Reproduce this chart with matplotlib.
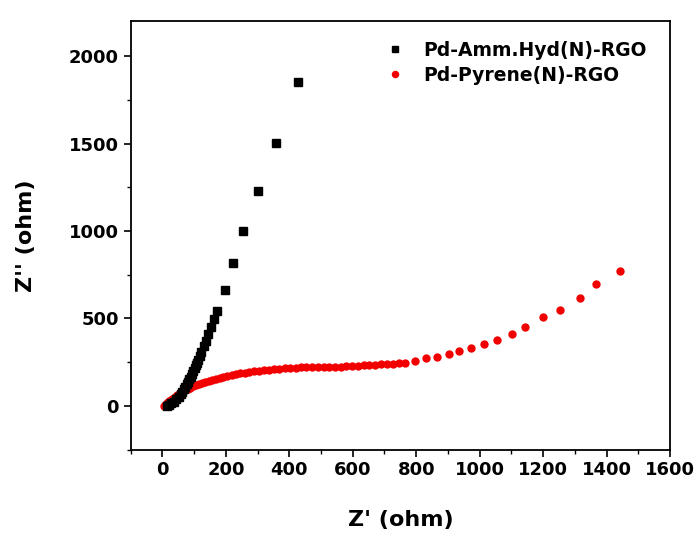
import matplotlib
matplotlib.use("Agg")
import matplotlib.pyplot as plt
from matplotlib.ticker import MultipleLocator

# Pd-Amm.Hyd(N)-RGO (black squares)
amm_x = [15, 21, 28, 37, 44, 52, 58, 63, 68, 71, 76, 80, 85, 89, 93, 97, 102, 106,
         110, 113, 118, 123, 130, 137, 144, 152, 161, 171, 196, 222, 254, 301, 357, 427]
amm_y = [2, 6, 15, 25, 38, 53, 68, 82, 96, 110, 125, 139, 153, 167, 185, 202, 218, 234,
         248, 263, 285, 307, 340, 373, 410, 450, 495, 545, 663, 815, 1000, 1229, 1505, 1853]

# Pd-Pyrene(N)-RGO (red circles)
pyr_x = [5, 8, 11, 14, 18, 22, 26, 31, 36, 41, 47, 53, 58, 65, 72, 80, 88, 97, 106,
         115, 125, 135, 146, 157, 168, 180, 192, 205, 218, 231, 245, 259, 274, 289,
         304, 320, 336, 352, 369, 386, 403, 420, 437, 454, 472, 490, 508, 526, 544,
         562, 580, 598, 616, 634, 652, 670, 689, 708, 727, 746, 765, 797, 831, 865,
         902, 936, 972, 1014, 1054, 1101, 1143, 1199, 1253, 1316, 1366, 1442]
pyr_y = [2, 6, 10, 15, 20, 26, 32, 38, 45, 52, 60, 67, 72, 80, 88, 96, 104, 111, 118,
         124, 131, 137, 144, 150, 156, 162, 168, 173, 178, 182, 186, 190, 194, 197,
         200, 204, 207, 210, 212, 214, 216, 218, 220, 221, 222, 223, 224, 224, 225,
         225, 226, 227, 229, 231, 233, 235, 237, 239, 241, 243, 247, 257, 272, 282,
         295, 314, 329, 352, 377, 411, 450, 510, 549, 615, 695, 773]

labels = ["Pd-Amm.Hyd(N)-RGO", "Pd-Pyrene(N)-RGO"]

plt.rcParams['font.family'] = ['DejaVu Sans']
plt.rcParams['font.weight'] = 'bold'

fig = plt.figure(figsize=(6.99, 5.43), dpi=100)
ax = fig.add_axes([0.187, 0.172, 0.7715, 0.789])

ax.plot(amm_x, amm_y, linestyle='none', marker='s', markersize=5.5,
        color='black', label=labels[0], zorder=3)
ax.plot(pyr_x, pyr_y, linestyle='none', marker='o', markersize=6,
        color='#f20000', markeredgewidth=0, label=labels[1], zorder=2)

ax.set_xlim(-100, 1600)
ax.set_ylim(-250, 2200)
ax.xaxis.set_major_locator(MultipleLocator(200))
ax.xaxis.set_minor_locator(MultipleLocator(100))
ax.yaxis.set_major_locator(MultipleLocator(500))
ax.yaxis.set_minor_locator(MultipleLocator(250))
ax.tick_params(which='major', direction='out', length=5, width=1.2,
               labelsize=13, top=False, right=False)
ax.tick_params(which='minor', direction='out', length=3, width=1.0,
               top=False, right=False)
for lab in ax.get_xticklabels() + ax.get_yticklabels():
    lab.set_fontweight('bold')
for sp in ax.spines.values():
    sp.set_linewidth(1.3)

ax.set_xlabel("Z' (ohm)", fontsize=16, fontweight='bold', labelpad=22)
ax.set_ylabel("Z'' (ohm)", fontsize=16, fontweight='bold', labelpad=24)

leg = ax.legend(loc='upper left', bbox_to_anchor=(0.441, 0.993), frameon=False,
                prop={'weight': 'bold', 'size': 13.5}, handletextpad=1.0,
                labelspacing=0.3, handlelength=1.0, markerscale=0.9)

fig.savefig("out.png", dpi=100)
